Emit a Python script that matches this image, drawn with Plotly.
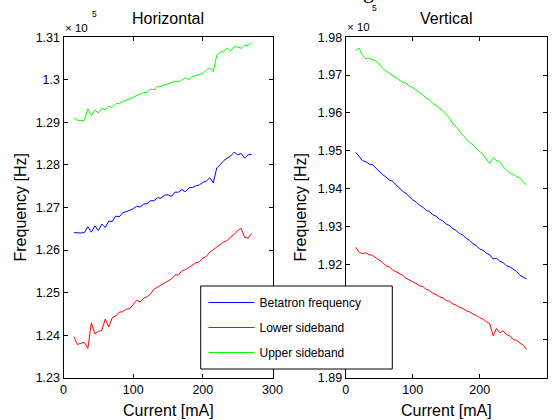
import plotly.graph_objects as go

# Beam current [mA]
current = [15, 20, 25, 30, 35, 40, 45, 50, 55, 60, 65, 70, 75, 80, 85, 90, 95, 100,
           105, 110, 115, 120, 125, 130, 135, 140, 145, 150, 155, 160, 165, 170, 175,
           180, 185, 190, 195, 200, 205, 210, 215, 220, 225, 230, 235, 240, 245, 250,
           255, 260, 265, 270]

# Horizontal plane, frequency in units of 1e5 Hz
h_betatron = [1.2641, 1.2640, 1.2640, 1.2641, 1.2655, 1.2642, 1.2657, 1.2646, 1.2661, 1.2653,
              1.2668, 1.2667, 1.2680, 1.2678, 1.2688, 1.2690, 1.2693, 1.2697, 1.2703, 1.2701,
              1.2708, 1.2709, 1.2716, 1.2716, 1.2723, 1.2722, 1.2729, 1.2730, 1.2726, 1.2736,
              1.2736, 1.2742, 1.2737, 1.2746, 1.2747, 1.2751, 1.2753, 1.2759, 1.2762, 1.2770,
              1.2758, 1.2793, 1.2801, 1.2810, 1.2816, 1.2821, 1.2830, 1.2824, 1.2827, 1.2816,
              1.2824, 1.2825]
h_lower = [1.2396, 1.2378, 1.2381, 1.2383, 1.2369, 1.2429, 1.2403, 1.2409, 1.2411, 1.2438,
           1.2419, 1.2441, 1.2445, 1.2454, 1.2455, 1.2461, 1.2462, 1.2471, 1.2482, 1.2478,
           1.2487, 1.2490, 1.2497, 1.2508, 1.2513, 1.2519, 1.2523, 1.2529, 1.2532, 1.2541,
           1.2542, 1.2551, 1.2554, 1.2559, 1.2564, 1.2570, 1.2572, 1.2581, 1.2585, 1.2595,
           1.2601, 1.2607, 1.2613, 1.2619, 1.2622, 1.2631, 1.2636, 1.2646, 1.2651, 1.2630,
           1.2628, 1.2639]
h_upper = [1.2910, 1.2905, 1.2904, 1.2905, 1.2932, 1.2916, 1.2929, 1.2922, 1.2933, 1.2929,
           1.2938, 1.2935, 1.2944, 1.2944, 1.2949, 1.2952, 1.2956, 1.2959, 1.2963, 1.2966,
           1.2970, 1.2971, 1.2978, 1.2977, 1.2984, 1.2984, 1.2989, 1.2990, 1.2994, 1.2996,
           1.2995, 1.3000, 1.3005, 1.3001, 1.3008, 1.3009, 1.3013, 1.3015, 1.3023, 1.3028,
           1.3019, 1.3058, 1.3065, 1.3067, 1.3074, 1.3068, 1.3078, 1.3077, 1.3074, 1.3081,
           1.3081, 1.3088]

# Vertical plane, frequency in units of 1e5 Hz
v_betatron = [1.9496, 1.9484, 1.9474, 1.9471, 1.9465, 1.9463, 1.9454, 1.9447, 1.9437, 1.9431,
              1.9423, 1.9419, 1.9410, 1.9403, 1.9393, 1.9387, 1.9377, 1.9370, 1.9365, 1.9356,
              1.9351, 1.9343, 1.9339, 1.9331, 1.9327, 1.9319, 1.9314, 1.9306, 1.9302, 1.9294,
              1.9289, 1.9281, 1.9277, 1.9268, 1.9263, 1.9254, 1.9249, 1.9240, 1.9237, 1.9229,
              1.9225, 1.9214, 1.9216, 1.9208, 1.9204, 1.9196, 1.9193, 1.9187, 1.9181, 1.9171,
              1.9165, 1.9161]
v_lower = [1.9245, 1.9232, 1.9228, 1.9230, 1.9225, 1.9224, 1.9217, 1.9212, 1.9205, 1.9196,
           1.9193, 1.9185, 1.9181, 1.9175, 1.9171, 1.9163, 1.9159, 1.9153, 1.9149, 1.9143,
           1.9141, 1.9134, 1.9131, 1.9123, 1.9120, 1.9114, 1.9111, 1.9104, 1.9102, 1.9095,
           1.9092, 1.9086, 1.9083, 1.9077, 1.9074, 1.9068, 1.9065, 1.9059, 1.9055, 1.9048,
           1.9043, 1.9011, 1.9030, 1.9019, 1.9024, 1.9014, 1.9011, 1.9001, 1.8999, 1.8992,
           1.8986, 1.8975]
v_upper = [1.9766, 1.9771, 1.9752, 1.9743, 1.9745, 1.9742, 1.9737, 1.9729, 1.9718, 1.9711,
           1.9705, 1.9701, 1.9693, 1.9689, 1.9681, 1.9679, 1.9671, 1.9667, 1.9661, 1.9653,
           1.9648, 1.9639, 1.9635, 1.9625, 1.9620, 1.9611, 1.9606, 1.9597, 1.9586, 1.9571,
           1.9563, 1.9551, 1.9541, 1.9533, 1.9522, 1.9516, 1.9505, 1.9498, 1.9491, 1.9478,
           1.9466, 1.9483, 1.9474, 1.9471, 1.9457, 1.9450, 1.9441, 1.9437, 1.9431, 1.9428,
           1.9417, 1.9410]

h_ticks = [1.23, 1.24, 1.25, 1.26, 1.27, 1.28, 1.29, 1.30, 1.31]
h_ticktext = ["1.23", "1.24", "1.25", "1.26", "1.27", "1.28", "1.29", "1.3", "1.31"]
v_ticks = [1.89, 1.90, 1.91, 1.92, 1.93, 1.94, 1.95, 1.96, 1.97, 1.98]
v_ticktext = ["1.89", "1.9", "1.91", "1.92", "1.93", "1.94", "1.95", "1.96", "1.97", "1.98"]
x_ticks = [0, 100, 200, 300]

names = ["Betatron frequency", "Lower sideband", "Upper sideband"]
colors = ["#0000ff", "#ff0000", "#00ff00"]

W, H = 557, 420
FONT = "Liberation Sans, Arial, Helvetica, sans-serif"

fig = go.Figure()
for ys, nm, c in zip([h_betatron, h_lower, h_upper], names, colors):
    fig.add_trace(go.Scatter(x=current, y=ys, mode="lines", name=nm,
                             line=dict(color=c, width=1), xaxis="x", yaxis="y",
                             legendgroup=nm, showlegend=True))
for ys, nm, c in zip([v_betatron, v_lower, v_upper], names, colors):
    fig.add_trace(go.Scatter(x=current, y=ys, mode="lines", name=nm,
                             line=dict(color=c, width=1), xaxis="x2", yaxis="y2",
                             legendgroup=nm, showlegend=False))

# plot areas in pixels
L1, R1 = 63.5, 272.5
L2, R2 = 345.7, 546.7
T, B = 37.3, 377.7

def px(xp):
    return xp / W

def py(yp):
    return 1 - yp / H

axis_common = dict(showline=True, linecolor="black", linewidth=1, mirror="ticks",
                   ticks="inside", ticklen=4, tickcolor="black", showgrid=False,
                   zeroline=False, automargin=False,
                   tickfont=dict(family=FONT, size=12.5, color="black"))

fig.update_layout(
    width=W, height=H,
    margin=dict(l=0, r=0, t=0, b=0),
    paper_bgcolor="white", plot_bgcolor="white",
    font=dict(family=FONT, color="black"),
    xaxis=dict(domain=[px(L1), px(R1)], range=[0, 300], tickvals=x_ticks, anchor="y",
               **axis_common),
    yaxis=dict(domain=[py(B), py(T)], range=[1.23, 1.31], tickvals=h_ticks,
               ticktext=h_ticktext, anchor="x", **axis_common),
    xaxis2=dict(domain=[px(L2), px(R2)], range=[0, 300], tickvals=x_ticks, anchor="y2",
                **axis_common),
    yaxis2=dict(domain=[py(B), py(T)], range=[1.89, 1.98], tickvals=v_ticks,
                ticktext=v_ticktext, anchor="x2", **axis_common),
    showlegend=True,
    legend=dict(x=px(203.5), y=py(288), xanchor="left", yanchor="top",
                bgcolor="rgba(0,0,0,0)", borderwidth=0,
                font=dict(family=FONT, size=12, color="black"),
                itemwidth=46, tracegroupgap=6, traceorder="grouped"),
)

# legend frame
fig.add_shape(type="rect", xref="paper", yref="paper",
              x0=px(200.7), x1=px(392.3), y0=py(369), y1=py(286),
              line=dict(color="black", width=1), fillcolor="white", layer="above")

ann = []
def text(x, y, s, size, family=FONT, **kw):
    ann.append(dict(x=px(x), y=py(y), xref="paper", yref="paper", text=s, showarrow=False,
                    xanchor=kw.pop("xanchor", "center"), yanchor=kw.pop("yanchor", "middle"),
                    font=dict(family=family, size=size, color="black"), **kw))

text((L1 + R1) / 2, 19, "Horizontal", 16)
text((L2 + R2) / 2, 19, "Vertical", 16)
text((L1 + R1) / 2, 410, "Current [mA]", 16)
text((L2 + R2) / 2, 410, "Current [mA]", 16)
text(20, (T + B) / 2, "Frequency [Hz]", 16, textangle=-90)
text(300, (T + B) / 2, "Frequency [Hz]", 16, textangle=-90)
text(L1 - 0.5, 28.5, "× 10", 11.5, xanchor="left")
text(90, 14.5, "5", 8.5, xanchor="left")
text(L2 - 1, 27.5, "× 10", 11.5, xanchor="left")
text(370, 8, "5", 8.5, xanchor="left")
# descender of a caption letter cut off at the top edge of the image
text(368, -9.5, "g", 22, family="Liberation Serif, Times New Roman, serif")
fig.update_layout(annotations=ann)

fig.write_html("out.html")
